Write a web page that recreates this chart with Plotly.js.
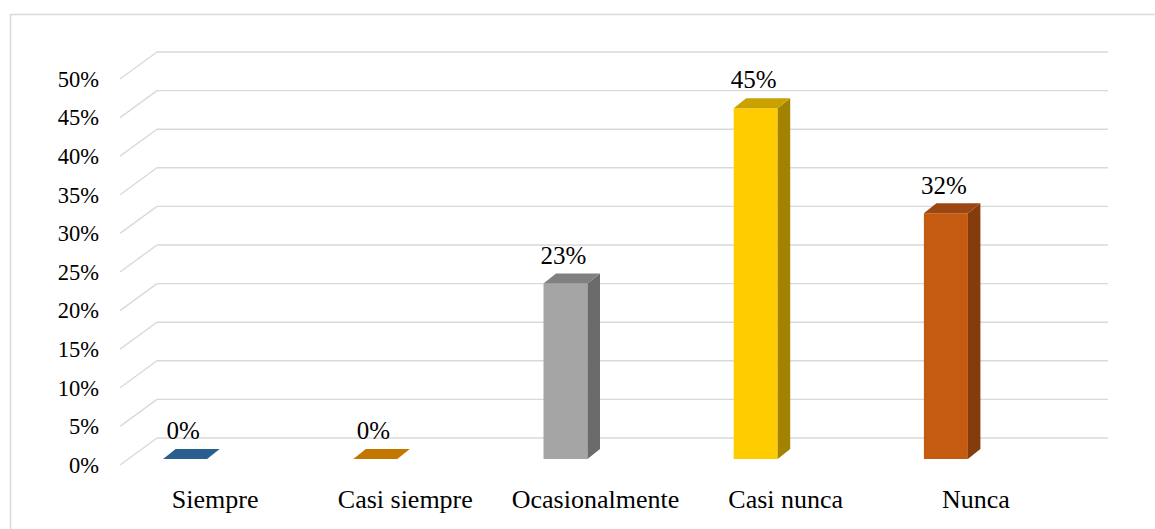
<!DOCTYPE html>
<html>
<head>
<meta charset="utf-8">
<script src="https://cdn.plot.ly/plotly-3.0.1.min.js"></script>
<style>html,body{margin:0;padding:0;background:#fff;}#chart{width:1155px;height:529px;}</style>
</head>
<body>
<div id="chart"></div>
<script>
// ---- data ----
const categories = ['Siempre', 'Casi siempre', 'Ocasionalmente', 'Casi nunca', 'Nunca'];
const values = [0, 0, 0.2273, 0.4545, 0.3182];
const yTickVals = [0, 0.05, 0.10, 0.15, 0.20, 0.25, 0.30, 0.35, 0.40, 0.45, 0.50];
const yTickText = ['0%', '5%', '10%', '15%', '20%', '25%', '30%', '35%', '40%', '45%', '50%'];
const frontColors = ['#2a5e8f', '#c27800', '#a5a5a5', '#ffcc00', '#c55a11'];
const topColors = ['#2a5e8f', '#c27800', '#808080', '#c9a200', '#9c4612'];
const sideColors = ['#1f466b', '#915a00', '#6b6b6b', '#a38200', '#843c0c'];

// ---- geometry (pixels) ----
const SERIF = 'Liberation Serif';
const W = 1155, H = 529;
const L = 120, R = 1108, T = 20, B = 478;
const pxPerX = 190.2;          // one category in px
const pxPerY = 772;            // 100% in px
const front0 = 465;            // pixel row of 0% on the front edge
const floorDepth = [37, 27];   // front edge -> back wall (dx right, dy up)
const barWidthPx = 44, barShiftPx = -30, barLiftPx = 6;
const barDepth = [12.5, 10];
const labelLiftPx = 26, labelShiftPx = -2;

const xRange = [-0.5, -0.5 + (R - L) / pxPerX];
const yRange = [-(B - front0) / pxPerY, (front0 - T) / pxPerY];
const dx = p => p / pxPerX, dy = p => p / pxPerY;

const idx = categories.map((c, i) => i);
const bw = dx(barWidthPx), bOff = dx(barShiftPx) - bw / 2, base = dy(barLiftPx);
const ddx = dx(barDepth[0]), ddy = dy(barDepth[1]);

const traces = [];
// side and top faces
idx.forEach(i => {
  const xl = i + bOff, xr = xl + bw, top = base + values[i];
  traces.push({
    type: 'scatter', mode: 'lines', x: [xr, xr + ddx, xr + ddx, xr, xr],
    y: [base, base + ddy, top + ddy, top, base], fill: 'toself',
    fillcolor: sideColors[i], line: {width: 0, color: sideColors[i]}, hoverinfo: 'skip', showlegend: false
  });
  traces.push({
    type: 'scatter', mode: 'lines', x: [xl, xl + ddx, xr + ddx, xr, xl],
    y: [top, top + ddy, top + ddy, top, top], fill: 'toself',
    fillcolor: topColors[i], line: {width: 0, color: topColors[i]}, hoverinfo: 'skip', showlegend: false
  });
});
// front faces
traces.push({
  type: 'bar', x: idx, y: values, base: base, width: bw, offset: bOff,
  marker: {color: frontColors, line: {width: 0}}, hoverinfo: 'skip', showlegend: false
});
// data labels
traces.push({
  type: 'scatter', mode: 'text', x: idx.map(i => i + bOff + bw / 2 + dx(labelShiftPx)),
  y: values.map(v => base + v + dy(labelLiftPx)),
  text: values.map(v => Math.round(v * 100) + '%'), textposition: 'middle center',
  textfont: {family: SERIF, size: 25, color: '#000'},
  hoverinfo: 'skip', showlegend: false, cliponaxis: false
});

// grid: back wall lines + floor/side diagonals
const shapes = [];
const gx0 = xRange[0] + dx(floorDepth[0]);
yTickVals.forEach(v => {
  const yb = v + dy(floorDepth[1]);
  shapes.push({type: 'line', xref: 'x', yref: 'y', layer: 'below', x0: gx0, x1: xRange[1], y0: yb, y1: yb,
    line: {color: '#d9d9d9', width: 1.4}});
  shapes.push({type: 'line', xref: 'x', yref: 'y', layer: 'below', x0: xRange[0], x1: gx0, y0: v, y1: yb,
    line: {color: '#d9d9d9', width: 1.4}});
});
// chart border
const pw = R - L, ph = B - T;
shapes.push({type: 'rect', xref: 'paper', yref: 'paper', layer: 'below',
  x0: (10.5 - L) / pw, x1: (W + 5 - L) / pw, y0: (B - (H + 5)) / ph, y1: (B - 14.5) / ph,
  line: {color: '#d9d9d9', width: 1.5}, fillcolor: 'rgba(0,0,0,0)'});

const layout = {
  width: W, height: H, autosize: false,
  margin: {l: L, r: W - R, t: T, b: H - B, pad: 0},
  paper_bgcolor: '#fff', plot_bgcolor: 'rgba(0,0,0,0)',
  hovermode: false, showlegend: false, barmode: 'overlay',
  font: {family: SERIF, color: '#000'},
  xaxis: {type: 'linear', range: xRange, tickmode: 'array', tickvals: idx, ticktext: categories,
    showgrid: false, zeroline: false, showline: false, ticks: '', automargin: false,
    ticklabelstandoff: 3, tickfont: {family: SERIF, size: 26, color: '#000'}, fixedrange: true},
  yaxis: {type: 'linear', range: yRange, tickmode: 'array', tickvals: yTickVals, ticktext: yTickText,
    showgrid: false, zeroline: false, showline: false, ticks: '', automargin: false,
    ticklabelstandoff: 20, tickfont: {family: SERIF, size: 22.5, color: '#000'}, fixedrange: true},
  shapes: shapes
};

Plotly.newPlot('chart', traces, layout, {displayModeBar: false, staticPlot: true});
</script>
</body>
</html>
